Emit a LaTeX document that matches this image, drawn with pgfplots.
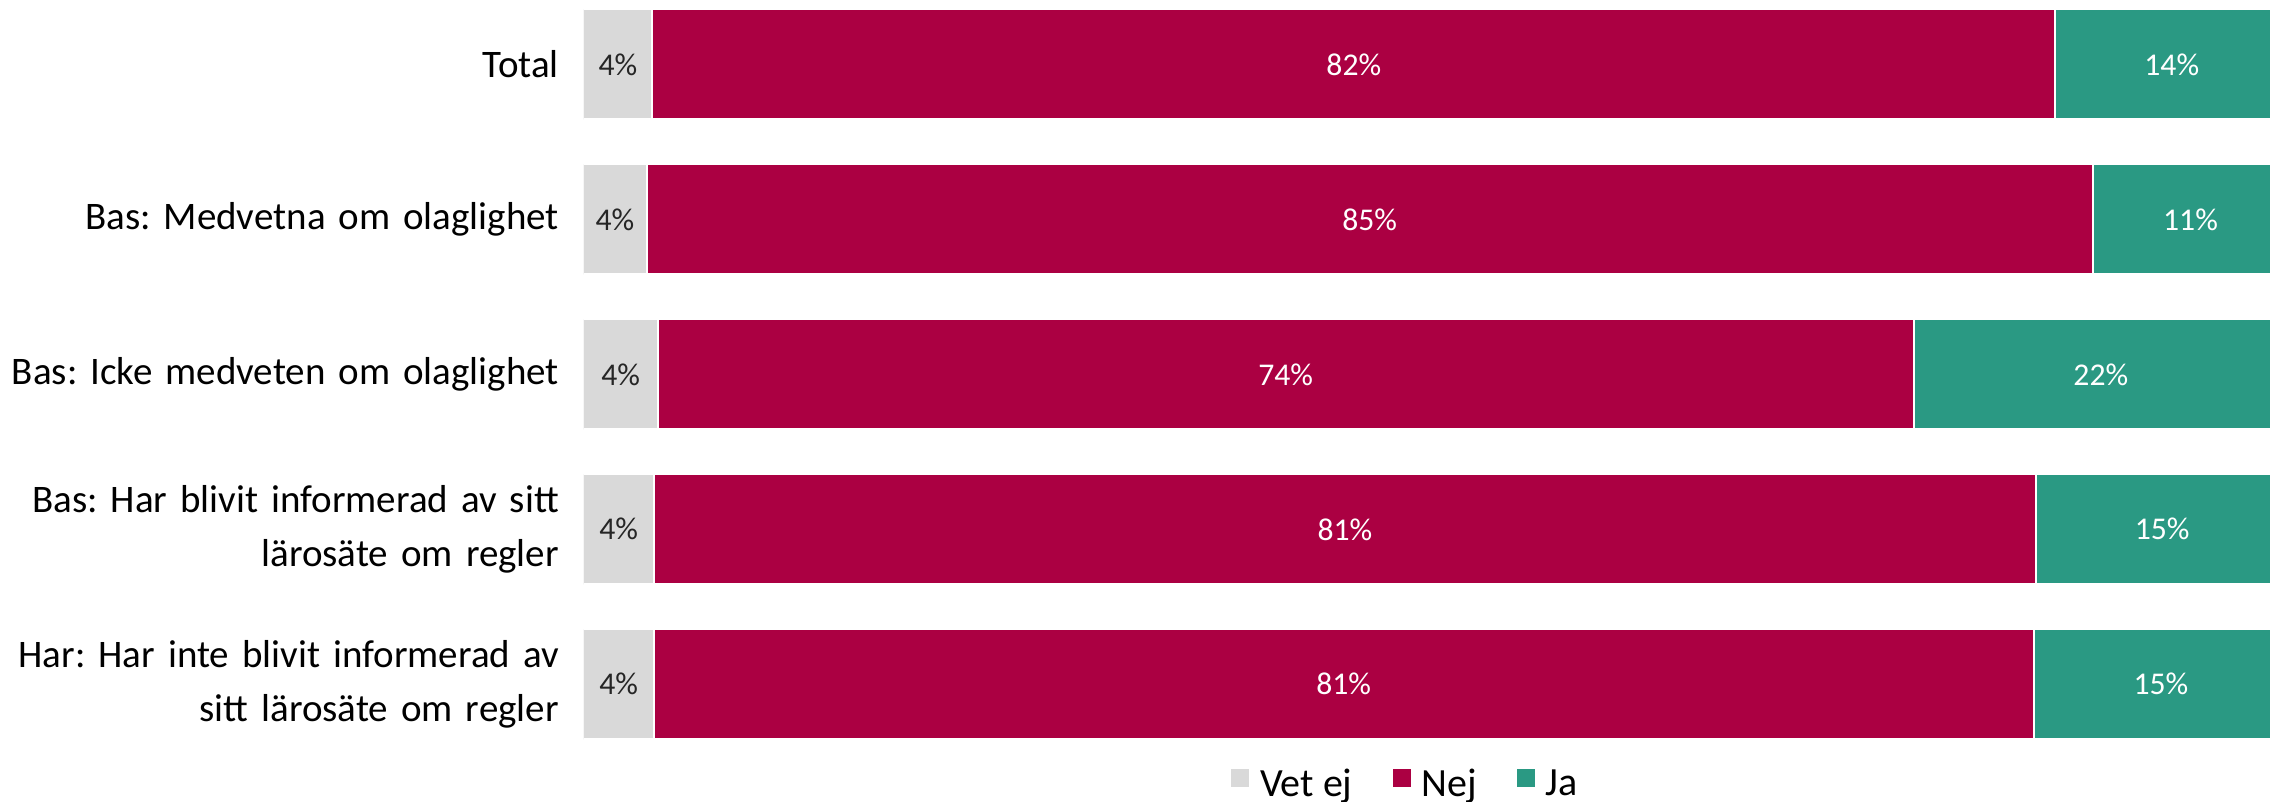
\documentclass[border=0pt]{standalone}
\usepackage{pgfplots}
\pgfplotsset{compat=1.18}
\usepackage{pgfplotstable}
\usepackage{fontspec}
\setmainfont{Carlito}
\frenchspacing
\definecolor{cgray}{HTML}{D9D9D9}
\definecolor{cnej}{HTML}{AB0042}
\definecolor{cja}{HTML}{2A9983}
\pgfplotstableread{
y gray nej ja lg ln lj
0 4.03 82.32 13.65 4\% 82\% 14\%
1 3.70 84.85 11.45 4\% 85\% 11\%
2 4.36 73.67 21.97 4\% 74\% 22\%
3 4.12 81.10 14.78 4\% 81\% 15\%
4 4.12 80.96 14.92 4\% 81\% 15\%
}\data
\pgfplotsset{
  common/.style={
    width=506.1pt, height=228.6pt, scale only axis,
    xmin=0, xmax=98.94, ymin=-0.416, ymax=4.5, y dir=reverse,
  }
}
\begin{document}
\begin{tikzpicture}
\begin{axis}[common,
  xbar stacked, bar width=33pt,
  hide x axis,
  axis line style={draw=none}, tick style={draw=none}, major tick length=0pt,
  ytick={0,1,2,3,4},
  yticklabels={Total,Bas: Medvetna om olaglighet,Bas: Icke medveten om olaglighet,{Bas: Har blivit informerad av sitt\\lärosäte om regler},{Har: Har inte blivit informerad av\\sitt lärosäte om regler}},
  yticklabel style={font=\fontsize{11.7}{16.1}\selectfont, align=right, text width=167.7pt, inner sep=0pt, xshift=-7.2pt},
  legend style={at={(0.4868,-0.0525)}, anchor=south, legend columns=3, draw=none, inner sep=0pt,
    font=\fontsize{12}{14}\selectfont, nodes={inner sep=0pt},
    /tikz/every odd column/.append style={column sep=3.3pt},
    /tikz/every even column/.append style={column sep=12pt}},
  legend image code/.code={\fill[#1,draw=none] (0pt,-0.5pt) rectangle (5.4pt,4.9pt);},
]
\addplot[fill=cgray, draw=white, line width=0.6pt] table[x=gray, y=y] {\data};
\addlegendentry{Vet ej}
\addplot[fill=cnej, draw=white, line width=0.6pt] table[x=nej, y=y] {\data};
\addlegendentry{Nej}
\addplot[fill=cja, draw=white, line width=0.6pt] table[x=ja, y=y] {\data};
\addlegendentry{Ja}
\end{axis}
\begin{axis}[common, hide axis]
\addplot[draw=none, mark=none, nodes near coords, nodes near coords align=center, point meta=explicit symbolic,
  every node near coord/.append style={font=\fontsize{9.5}{11}\selectfont, text=black!85, anchor=center}]
  table[x expr=\thisrow{gray}/2, y=y, meta=lg] {\data};
\addplot[draw=none, mark=none, nodes near coords, nodes near coords align=center, point meta=explicit symbolic,
  every node near coord/.append style={font=\fontsize{9.5}{11}\selectfont, text=white, anchor=center}]
  table[x expr=\thisrow{gray}+\thisrow{nej}/2, y=y, meta=ln] {\data};
\addplot[draw=none, mark=none, nodes near coords, nodes near coords align=center, point meta=explicit symbolic,
  every node near coord/.append style={font=\fontsize{9.5}{11}\selectfont, text=white, anchor=center}]
  table[x expr=\thisrow{gray}+\thisrow{nej}+\thisrow{ja}/2, y=y, meta=lj] {\data};
\end{axis}
\end{tikzpicture}
\end{document}
